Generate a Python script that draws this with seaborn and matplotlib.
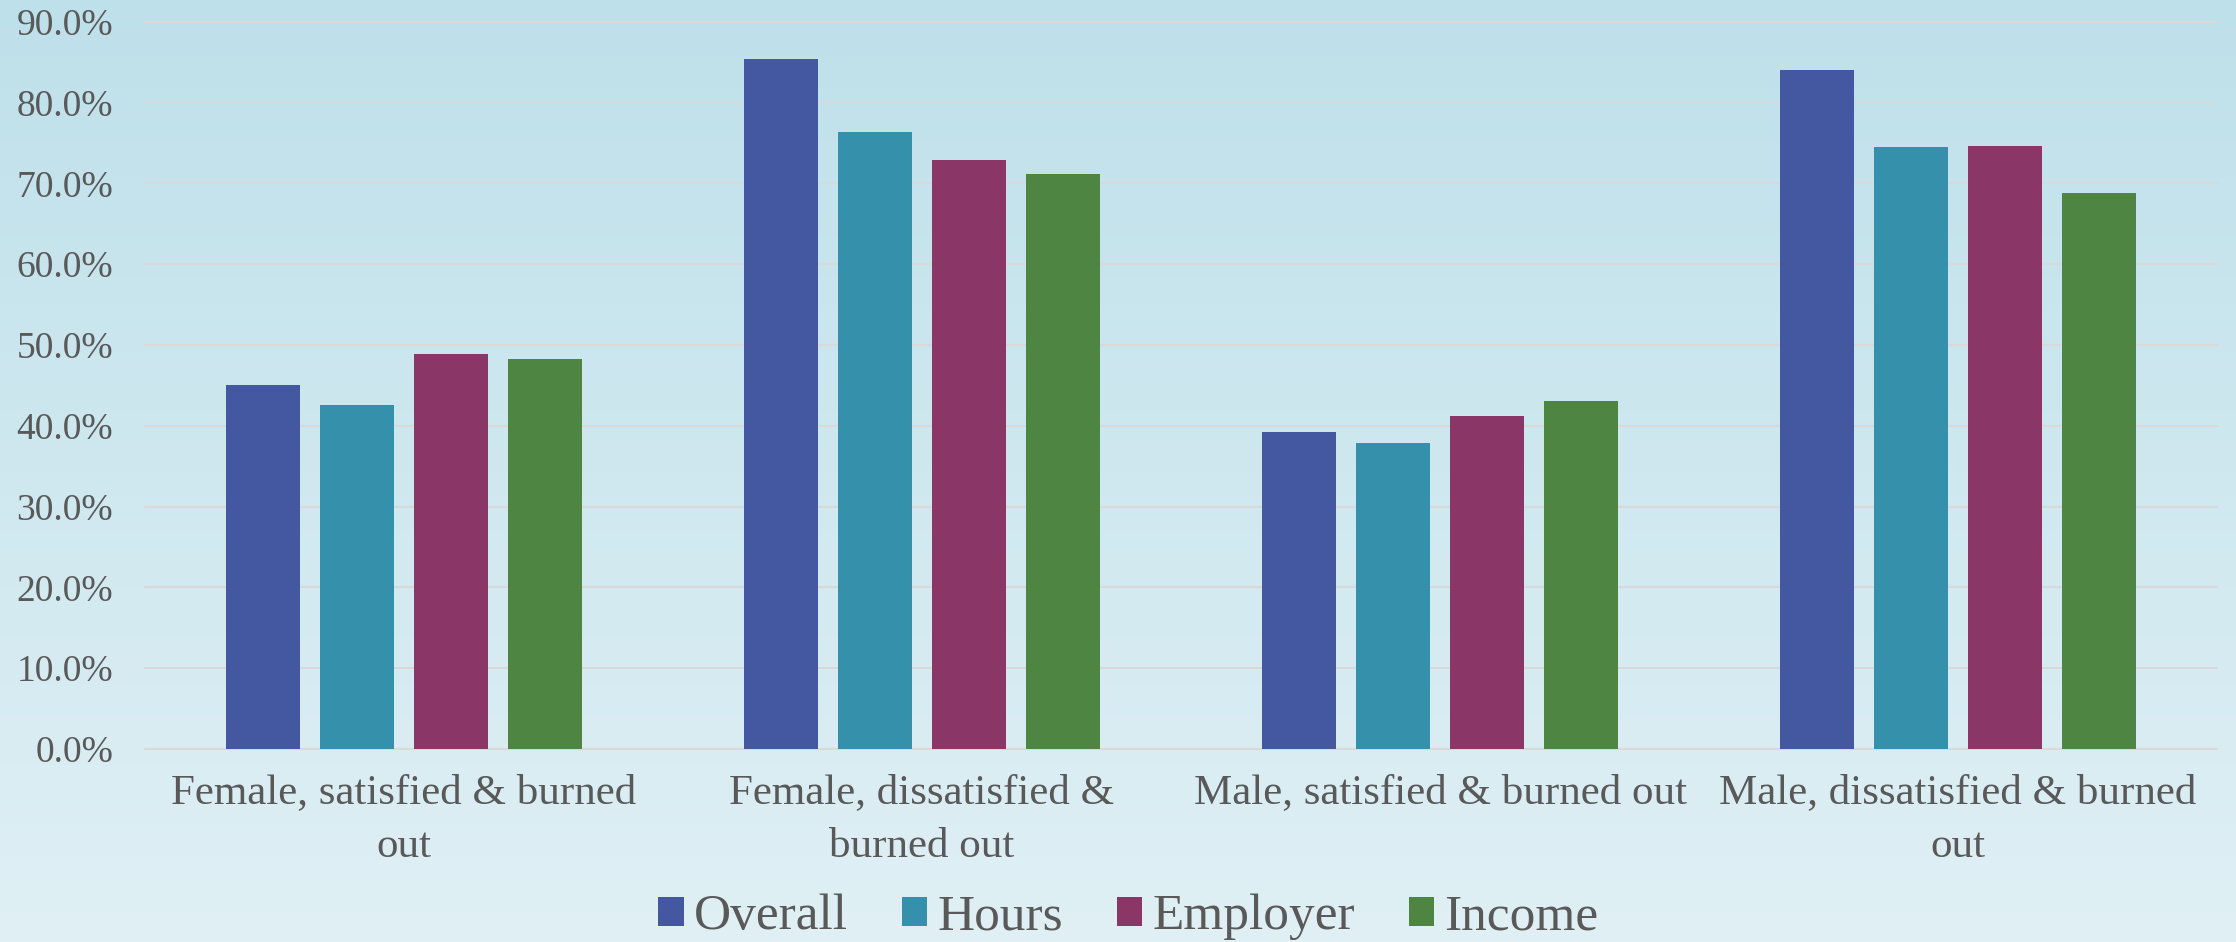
import numpy as np
import pandas as pd
import matplotlib
matplotlib.use("Agg")
import matplotlib.pyplot as plt
import seaborn as sns
from matplotlib.colors import LinearSegmentedColormap
from matplotlib.ticker import PercentFormatter, FixedLocator

# Burnout shares by group and by reason (percent)
groups = [
    "Female, satisfied & burned out",
    "Female, dissatisfied & burned out",
    "Male, satisfied & burned out",
    "Male, dissatisfied & burned out",
]
group_labels = [
    "Female, satisfied & burned\nout",
    "Female, dissatisfied &\nburned out",
    "Male, satisfied & burned out",
    "Male, dissatisfied & burned\nout",
]
series = ["Overall", "Hours", "Employer", "Income"]
overall = [45.0, 85.4, 39.2, 84.0]
hours = [42.6, 76.3, 37.9, 74.5]
employer = [48.9, 72.9, 41.2, 74.6]
income = [48.2, 71.2, 43.1, 68.8]
y_ticks = [0, 10, 20, 30, 40, 50, 60, 70, 80, 90]

colors = ["#4457A1", "#3591AB", "#8A3667", "#4E8542"]
text_color = "#595959"

df = pd.DataFrame({
    "group": groups * 4,
    "series": [s for s in series for _ in groups],
    "value": overall + hours + employer + income,
})

sns.set_theme(style="white")
plt.rcParams["font.family"] = ["Liberation Serif", "DejaVu Serif"]

W, H = 2236, 942
fig = plt.figure(figsize=(W / 100, H / 100), dpi=100)

# vertical gradient backdrop
bg = fig.add_axes([0, 0, 1, 1], zorder=-10)
grad = np.linspace(0, 1, 256)[:, None]
cmap = LinearSegmentedColormap.from_list("bg", ["#BEE0EA", "#E0F0F5"])
bg.imshow(grad, aspect="auto", cmap=cmap, extent=[0, 1, 0, 1], origin="upper")
bg.axis("off")

left, right, bottom, top = 145, 2217, 749, 21.7
ax = fig.add_axes([left / W, 1 - bottom / H, (right - left) / W, (bottom - top) / H])
ax.set_facecolor("none")

sns.barplot(
    data=df, x="group", y="value", hue="series",
    order=groups, hue_order=series, palette=colors,
    saturation=1, width=0.726, gap=0.21, ax=ax, errorbar=None,
    linewidth=0,
)

ax.set_xlim(-0.5, 3.5)
ax.set_ylim(0, 90)
ax.yaxis.set_major_locator(FixedLocator(y_ticks))
ax.yaxis.set_major_formatter(PercentFormatter(xmax=100, decimals=1))
ax.yaxis.grid(True, color="#D9D9D9", linewidth=1.5)
ax.set_axisbelow(True)
for gl in ax.get_ygridlines():
    gl.set_clip_on(False)
for sp in ax.spines.values():
    sp.set_visible(False)

ax.set_xticks(range(len(groups)))
ax.set_xticklabels(group_labels, linespacing=1.5)
ax.set_xlabel("")
ax.set_ylabel("")
ax.tick_params(axis="y", length=0, pad=23, labelsize=27, labelcolor=text_color)
ax.tick_params(axis="x", length=0, pad=18, labelsize=31, labelcolor=text_color)

handles, labels = ax.get_legend_handles_labels()
ax.get_legend().remove()
fig.legend(
    handles, labels, loc="center", bbox_to_anchor=(0.5047, 0.0265),
    ncol=4, frameon=False, fontsize=37, handlelength=0.49, handleheight=0.49,
    handletextpad=0.2, columnspacing=1.05, borderpad=0, labelcolor=text_color,
)

fig.savefig("out.png", dpi=100)
